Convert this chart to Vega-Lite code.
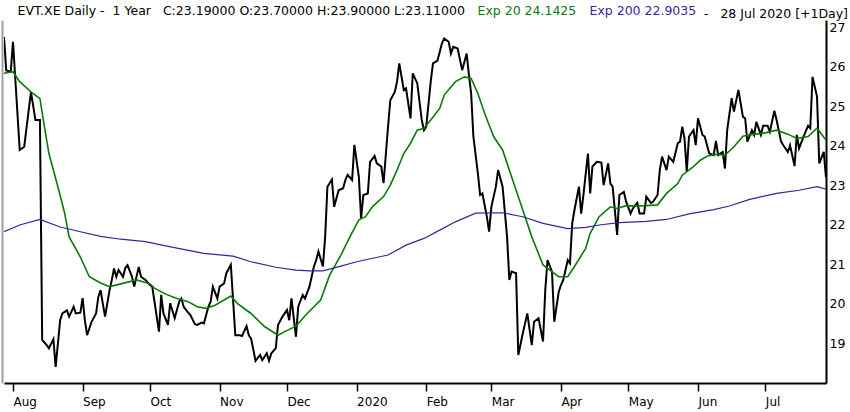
{
"$schema": "https://vega.github.io/schema/vega-lite/v6.json",
"width": 822, "height": 363,
"autosize": {"type": "none"},
"padding": {"left": 4, "top": 20, "right": 24, "bottom": 29},
"background": "white",
"config": {"font": "DejaVu Sans", "view": {"stroke": null}},
"title": {"text": "-\u00a0\u00a0\u00a028 Jul 2020 [+1Day]", "anchor": "end", "frame": "group", "dx": 22, "offset": -15, "fontSize": 12.5, "fontWeight": "normal", "color": "black"},
"data": {"values": [
{"d":"2019-07-28","v":26.75,"s":"C"},{"d":"2019-07-29","v":25.9,"s":"C"},{"d":"2019-07-31","v":25.87,"s":"C"},{"d":"2019-08-01","v":26.63,"s":"C"},{"d":"2019-08-04","v":23.89,"s":"C"},{"d":"2019-08-06","v":23.97,"s":"C"},{"d":"2019-08-09","v":25.36,"s":"C"},{"d":"2019-08-11","v":24.65,"s":"C"},{"d":"2019-08-13","v":24.65,"s":"C"},{"d":"2019-08-14","v":19.08,"s":"C"},{"d":"2019-08-16","v":18.95,"s":"C"},{"d":"2019-08-17","v":18.87,"s":"C"},{"d":"2019-08-19","v":19.1,"s":"C"},{"d":"2019-08-20","v":18.4,"s":"C"},{"d":"2019-08-22","v":19.58,"s":"C"},{"d":"2019-08-23","v":19.75,"s":"C"},{"d":"2019-08-25","v":19.83,"s":"C"},{"d":"2019-08-26","v":19.67,"s":"C"},{"d":"2019-08-28","v":19.92,"s":"C"},{"d":"2019-08-29","v":19.75,"s":"C"},{"d":"2019-08-31","v":19.77,"s":"C"},
{"d":"2019-09-01","v":20.14,"s":"C"},{"d":"2019-09-02","v":19.58,"s":"C"},{"d":"2019-09-03","v":19.2,"s":"C"},{"d":"2019-09-05","v":19.54,"s":"C"},{"d":"2019-09-07","v":19.75,"s":"C"},{"d":"2019-09-08","v":20.17,"s":"C"},{"d":"2019-09-09","v":20.34,"s":"C"},{"d":"2019-09-10","v":20.0,"s":"C"},{"d":"2019-09-11","v":19.67,"s":"C"},{"d":"2019-09-13","v":20.34,"s":"C"},{"d":"2019-09-14","v":20.6,"s":"C"},{"d":"2019-09-15","v":20.89,"s":"C"},{"d":"2019-09-16","v":20.68,"s":"C"},{"d":"2019-09-17","v":20.85,"s":"C"},{"d":"2019-09-19","v":20.68,"s":"C"},{"d":"2019-09-20","v":20.9,"s":"C"},{"d":"2019-09-21","v":20.97,"s":"C"},{"d":"2019-09-23","v":20.68,"s":"C"},{"d":"2019-09-24","v":20.43,"s":"C"},{"d":"2019-09-26","v":20.93,"s":"C"},{"d":"2019-09-27","v":20.68,"s":"C"},{"d":"2019-09-29","v":20.6,"s":"C"},
{"d":"2019-10-01","v":20.47,"s":"C"},{"d":"2019-10-02","v":20.43,"s":"C"},{"d":"2019-10-05","v":19.29,"s":"C"},{"d":"2019-10-06","v":20.22,"s":"C"},{"d":"2019-10-07","v":19.75,"s":"C"},{"d":"2019-10-09","v":19.46,"s":"C"},{"d":"2019-10-10","v":20.01,"s":"C"},{"d":"2019-10-12","v":19.63,"s":"C"},{"d":"2019-10-14","v":20.05,"s":"C"},{"d":"2019-10-15","v":20.13,"s":"C"},{"d":"2019-10-16","v":19.92,"s":"C"},{"d":"2019-10-18","v":19.77,"s":"C"},{"d":"2019-10-19","v":19.71,"s":"C"},{"d":"2019-10-21","v":19.48,"s":"C"},{"d":"2019-10-22","v":19.46,"s":"C"},{"d":"2019-10-24","v":19.52,"s":"C"},{"d":"2019-10-25","v":19.5,"s":"C"},{"d":"2019-10-27","v":19.92,"s":"C"},{"d":"2019-10-28","v":20.05,"s":"C"},{"d":"2019-10-29","v":20.43,"s":"C"},{"d":"2019-10-31","v":20.13,"s":"C"},
{"d":"2019-11-01","v":20.43,"s":"C"},{"d":"2019-11-03","v":20.51,"s":"C"},{"d":"2019-11-04","v":20.77,"s":"C"},{"d":"2019-11-06","v":20.98,"s":"C"},{"d":"2019-11-07","v":20.09,"s":"C"},{"d":"2019-11-08","v":19.2,"s":"C"},{"d":"2019-11-10","v":19.2,"s":"C"},{"d":"2019-11-11","v":19.18,"s":"C"},{"d":"2019-11-13","v":19.43,"s":"C"},{"d":"2019-11-14","v":19.2,"s":"C"},{"d":"2019-11-15","v":19.12,"s":"C"},{"d":"2019-11-17","v":18.55,"s":"C"},{"d":"2019-11-19","v":18.7,"s":"C"},{"d":"2019-11-20","v":18.57,"s":"C"},{"d":"2019-11-22","v":18.74,"s":"C"},{"d":"2019-11-23","v":18.55,"s":"C"},{"d":"2019-11-24","v":18.74,"s":"C"},{"d":"2019-11-26","v":18.87,"s":"C"},{"d":"2019-11-27","v":19.46,"s":"C"},{"d":"2019-11-29","v":19.67,"s":"C"},
{"d":"2019-12-01","v":19.84,"s":"C"},{"d":"2019-12-02","v":19.58,"s":"C"},{"d":"2019-12-03","v":20.13,"s":"C"},{"d":"2019-12-05","v":19.16,"s":"C"},{"d":"2019-12-06","v":19.92,"s":"C"},{"d":"2019-12-08","v":20.22,"s":"C"},{"d":"2019-12-09","v":20.13,"s":"C"},{"d":"2019-12-11","v":20.43,"s":"C"},{"d":"2019-12-13","v":20.94,"s":"C"},{"d":"2019-12-14","v":21.1,"s":"C"},{"d":"2019-12-15","v":21.32,"s":"C"},{"d":"2019-12-17","v":20.94,"s":"C"},{"d":"2019-12-18","v":21.69,"s":"C"},{"d":"2019-12-19","v":22.96,"s":"C"},{"d":"2019-12-21","v":23.14,"s":"C"},{"d":"2019-12-22","v":22.45,"s":"C"},{"d":"2019-12-24","v":22.87,"s":"C"},{"d":"2019-12-26","v":22.92,"s":"C"},{"d":"2019-12-27","v":23.13,"s":"C"},{"d":"2019-12-28","v":23.26,"s":"C"},{"d":"2019-12-30","v":23.13,"s":"C"},{"d":"2019-12-31","v":24.02,"s":"C"},
{"d":"2020-01-02","v":23.21,"s":"C"},{"d":"2020-01-03","v":22.16,"s":"C"},{"d":"2020-01-04","v":22.75,"s":"C"},{"d":"2020-01-06","v":22.79,"s":"C"},{"d":"2020-01-07","v":23.59,"s":"C"},{"d":"2020-01-09","v":23.74,"s":"C"},{"d":"2020-01-10","v":23.55,"s":"C"},{"d":"2020-01-12","v":23.47,"s":"C"},{"d":"2020-01-13","v":23.05,"s":"C"},{"d":"2020-01-15","v":24.48,"s":"C"},{"d":"2020-01-16","v":25.15,"s":"C"},{"d":"2020-01-18","v":25.36,"s":"C"},{"d":"2020-01-19","v":25.62,"s":"C"},{"d":"2020-01-20","v":26.08,"s":"C"},{"d":"2020-01-22","v":25.41,"s":"C"},{"d":"2020-01-23","v":25.45,"s":"C"},{"d":"2020-01-25","v":24.69,"s":"C"},{"d":"2020-01-26","v":25.83,"s":"C"},{"d":"2020-01-28","v":25.58,"s":"C"},{"d":"2020-01-30","v":24.65,"s":"C"},{"d":"2020-01-31","v":24.39,"s":"C"},
{"d":"2020-02-01","v":24.48,"s":"C"},{"d":"2020-02-03","v":25.62,"s":"C"},{"d":"2020-02-04","v":26.08,"s":"C"},{"d":"2020-02-06","v":26.15,"s":"C"},{"d":"2020-02-08","v":26.59,"s":"C"},{"d":"2020-02-09","v":26.71,"s":"C"},{"d":"2020-02-11","v":26.63,"s":"C"},{"d":"2020-02-12","v":26.33,"s":"C"},{"d":"2020-02-13","v":26.5,"s":"C"},{"d":"2020-02-15","v":26.46,"s":"C"},{"d":"2020-02-17","v":25.91,"s":"C"},{"d":"2020-02-19","v":26.33,"s":"C"},{"d":"2020-02-20","v":25.79,"s":"C"},{"d":"2020-02-21","v":25.32,"s":"C"},{"d":"2020-02-22","v":24.23,"s":"C"},{"d":"2020-02-24","v":23.3,"s":"C"},{"d":"2020-02-25","v":22.75,"s":"C"},{"d":"2020-02-26","v":22.79,"s":"C"},{"d":"2020-02-28","v":22.2,"s":"C"},{"d":"2020-02-29","v":21.82,"s":"C"},
{"d":"2020-03-01","v":22.45,"s":"C"},{"d":"2020-03-03","v":22.96,"s":"C"},{"d":"2020-03-04","v":23.38,"s":"C"},{"d":"2020-03-06","v":22.96,"s":"C"},{"d":"2020-03-08","v":21.69,"s":"C"},{"d":"2020-03-09","v":20.6,"s":"C"},{"d":"2020-03-10","v":20.81,"s":"C"},{"d":"2020-03-12","v":20.77,"s":"C"},{"d":"2020-03-13","v":18.7,"s":"C"},{"d":"2020-03-15","v":19.25,"s":"C"},{"d":"2020-03-16","v":19.5,"s":"C"},{"d":"2020-03-17","v":19.75,"s":"C"},{"d":"2020-03-19","v":18.95,"s":"C"},{"d":"2020-03-20","v":19.54,"s":"C"},{"d":"2020-03-22","v":19.63,"s":"C"},{"d":"2020-03-24","v":19.04,"s":"C"},{"d":"2020-03-25","v":20.34,"s":"C"},{"d":"2020-03-26","v":21.1,"s":"C"},{"d":"2020-03-28","v":20.81,"s":"C"},{"d":"2020-03-29","v":19.54,"s":"C"},{"d":"2020-03-31","v":20.3,"s":"C"},
{"d":"2020-04-01","v":20.47,"s":"C"},{"d":"2020-04-02","v":20.6,"s":"C"},{"d":"2020-04-04","v":21.1,"s":"C"},{"d":"2020-04-05","v":21.02,"s":"C"},{"d":"2020-04-06","v":22.03,"s":"C"},{"d":"2020-04-07","v":22.37,"s":"C"},{"d":"2020-04-09","v":22.96,"s":"C"},{"d":"2020-04-10","v":22.28,"s":"C"},{"d":"2020-04-11","v":22.75,"s":"C"},{"d":"2020-04-13","v":23.8,"s":"C"},{"d":"2020-04-14","v":22.79,"s":"C"},{"d":"2020-04-15","v":23.47,"s":"C"},{"d":"2020-04-17","v":23.59,"s":"C"},{"d":"2020-04-19","v":23.57,"s":"C"},{"d":"2020-04-20","v":23.0,"s":"C"},{"d":"2020-04-22","v":23.55,"s":"C"},{"d":"2020-04-23","v":23.04,"s":"C"},{"d":"2020-04-24","v":22.96,"s":"C"},{"d":"2020-04-26","v":21.74,"s":"C"},{"d":"2020-04-27","v":22.75,"s":"C"},{"d":"2020-04-29","v":22.83,"s":"C"},{"d":"2020-04-30","v":22.58,"s":"C"},
{"d":"2020-05-02","v":22.28,"s":"C"},{"d":"2020-05-03","v":22.41,"s":"C"},{"d":"2020-05-05","v":22.55,"s":"C"},{"d":"2020-05-06","v":22.28,"s":"C"},{"d":"2020-05-08","v":22.28,"s":"C"},{"d":"2020-05-09","v":22.71,"s":"C"},{"d":"2020-05-11","v":22.55,"s":"C"},{"d":"2020-05-12","v":22.58,"s":"C"},{"d":"2020-05-14","v":22.75,"s":"C"},{"d":"2020-05-15","v":23.38,"s":"C"},{"d":"2020-05-16","v":23.72,"s":"C"},{"d":"2020-05-18","v":23.38,"s":"C"},{"d":"2020-05-19","v":23.72,"s":"C"},{"d":"2020-05-21","v":23.59,"s":"C"},{"d":"2020-05-23","v":24.06,"s":"C"},{"d":"2020-05-24","v":24.1,"s":"C"},{"d":"2020-05-25","v":24.48,"s":"C"},{"d":"2020-05-26","v":24.18,"s":"C"},{"d":"2020-05-27","v":23.34,"s":"C"},{"d":"2020-05-28","v":24.23,"s":"C"},{"d":"2020-05-30","v":24.39,"s":"C"},{"d":"2020-05-31","v":24.01,"s":"C"},
{"d":"2020-06-01","v":24.69,"s":"C"},{"d":"2020-06-03","v":24.27,"s":"C"},{"d":"2020-06-04","v":24.23,"s":"C"},{"d":"2020-06-06","v":23.8,"s":"C"},{"d":"2020-06-08","v":23.76,"s":"C"},{"d":"2020-06-09","v":24.12,"s":"C"},{"d":"2020-06-10","v":23.76,"s":"C"},{"d":"2020-06-12","v":23.84,"s":"C"},{"d":"2020-06-13","v":23.42,"s":"C"},{"d":"2020-06-14","v":24.39,"s":"C"},{"d":"2020-06-16","v":25.2,"s":"C"},{"d":"2020-06-17","v":24.86,"s":"C"},{"d":"2020-06-19","v":25.41,"s":"C"},{"d":"2020-06-21","v":24.73,"s":"C"},{"d":"2020-06-22","v":24.69,"s":"C"},{"d":"2020-06-23","v":24.1,"s":"C"},{"d":"2020-06-25","v":24.39,"s":"C"},{"d":"2020-06-26","v":24.27,"s":"C"},{"d":"2020-06-27","v":24.6,"s":"C"},{"d":"2020-06-29","v":24.27,"s":"C"},{"d":"2020-06-30","v":24.5,"s":"C"},
{"d":"2020-07-02","v":24.5,"s":"C"},{"d":"2020-07-03","v":24.35,"s":"C"},{"d":"2020-07-05","v":24.88,"s":"C"},{"d":"2020-07-06","v":24.65,"s":"C"},{"d":"2020-07-08","v":24.1,"s":"C"},{"d":"2020-07-09","v":24.01,"s":"C"},{"d":"2020-07-11","v":23.84,"s":"C"},{"d":"2020-07-12","v":24.01,"s":"C"},{"d":"2020-07-14","v":23.48,"s":"C"},{"d":"2020-07-15","v":24.27,"s":"C"},{"d":"2020-07-16","v":23.93,"s":"C"},{"d":"2020-07-18","v":24.23,"s":"C"},{"d":"2020-07-20","v":24.5,"s":"C"},{"d":"2020-07-21","v":24.44,"s":"C"},{"d":"2020-07-22","v":25.74,"s":"C"},{"d":"2020-07-24","v":25.24,"s":"C"},{"d":"2020-07-25","v":23.55,"s":"C"},{"d":"2020-07-27","v":23.84,"s":"C"},{"d":"2020-07-28","v":23.19,"s":"C"},
{"d":"2019-07-28","v":25.83,"s":"E20"},{"d":"2019-08-01","v":25.87,"s":"E20"},{"d":"2019-08-04","v":25.62,"s":"E20"},{"d":"2019-08-09","v":25.36,"s":"E20"},{"d":"2019-08-13","v":25.19,"s":"E20"},{"d":"2019-08-15","v":24.48,"s":"E20"},{"d":"2019-08-17","v":23.8,"s":"E20"},{"d":"2019-08-21","v":22.96,"s":"E20"},{"d":"2019-08-24","v":22.29,"s":"E20"},{"d":"2019-08-26","v":21.69,"s":"E20"},{"d":"2019-08-31","v":21.18,"s":"E20"},{"d":"2019-09-04","v":20.68,"s":"E20"},{"d":"2019-09-09","v":20.52,"s":"E20"},{"d":"2019-09-13","v":20.43,"s":"E20"},{"d":"2019-09-18","v":20.5,"s":"E20"},{"d":"2019-09-25","v":20.6,"s":"E20"},{"d":"2019-10-01","v":20.5,"s":"E20"},{"d":"2019-10-03","v":20.39,"s":"E20"},{"d":"2019-10-08","v":20.24,"s":"E20"},{"d":"2019-10-13","v":20.13,"s":"E20"},{"d":"2019-10-18","v":20.05,"s":"E20"},{"d":"2019-10-22","v":19.92,"s":"E20"},{"d":"2019-10-26","v":19.88,"s":"E20"},{"d":"2019-10-30","v":19.96,"s":"E20"},{"d":"2019-11-03","v":20.09,"s":"E20"},{"d":"2019-11-06","v":20.19,"s":"E20"},{"d":"2019-11-09","v":20.0,"s":"E20"},{"d":"2019-11-15","v":19.75,"s":"E20"},{"d":"2019-11-21","v":19.42,"s":"E20"},{"d":"2019-11-27","v":19.2,"s":"E20"},{"d":"2019-11-30","v":19.29,"s":"E20"},{"d":"2019-12-05","v":19.43,"s":"E20"},{"d":"2019-12-10","v":19.75,"s":"E20"},{"d":"2019-12-16","v":20.09,"s":"E20"},{"d":"2019-12-20","v":20.72,"s":"E20"},{"d":"2019-12-25","v":21.23,"s":"E20"},{"d":"2019-12-29","v":21.69,"s":"E20"},{"d":"2020-01-02","v":22.12,"s":"E20"},{"d":"2020-01-05","v":22.2,"s":"E20"},{"d":"2020-01-08","v":22.45,"s":"E20"},{"d":"2020-01-13","v":22.71,"s":"E20"},{"d":"2020-01-16","v":23.0,"s":"E20"},{"d":"2020-01-19","v":23.38,"s":"E20"},{"d":"2020-01-22","v":23.8,"s":"E20"},{"d":"2020-01-25","v":24.06,"s":"E20"},{"d":"2020-01-28","v":24.39,"s":"E20"},{"d":"2020-01-31","v":24.44,"s":"E20"},{"d":"2020-02-03","v":24.65,"s":"E20"},{"d":"2020-02-07","v":24.94,"s":"E20"},{"d":"2020-02-09","v":25.28,"s":"E20"},{"d":"2020-02-14","v":25.62,"s":"E20"},{"d":"2020-02-18","v":25.74,"s":"E20"},{"d":"2020-02-21","v":25.7,"s":"E20"},{"d":"2020-02-24","v":25.32,"s":"E20"},{"d":"2020-02-27","v":24.82,"s":"E20"},{"d":"2020-03-02","v":24.23,"s":"E20"},{"d":"2020-03-06","v":23.89,"s":"E20"},{"d":"2020-03-10","v":23.21,"s":"E20"},{"d":"2020-03-15","v":22.37,"s":"E20"},{"d":"2020-03-19","v":21.69,"s":"E20"},{"d":"2020-03-24","v":20.98,"s":"E20"},{"d":"2020-03-26","v":20.89,"s":"E20"},{"d":"2020-03-31","v":20.68,"s":"E20"},{"d":"2020-04-04","v":20.68,"s":"E20"},{"d":"2020-04-07","v":20.94,"s":"E20"},{"d":"2020-04-12","v":21.4,"s":"E20"},{"d":"2020-04-14","v":21.78,"s":"E20"},{"d":"2020-04-18","v":22.2,"s":"E20"},{"d":"2020-04-23","v":22.45,"s":"E20"},{"d":"2020-04-26","v":22.41,"s":"E20"},{"d":"2020-04-30","v":22.48,"s":"E20"},{"d":"2020-05-05","v":22.47,"s":"E20"},{"d":"2020-05-09","v":22.48,"s":"E20"},{"d":"2020-05-14","v":22.5,"s":"E20"},{"d":"2020-05-18","v":22.79,"s":"E20"},{"d":"2020-05-23","v":23.04,"s":"E20"},{"d":"2020-05-25","v":23.25,"s":"E20"},{"d":"2020-05-30","v":23.47,"s":"E20"},{"d":"2020-06-02","v":23.63,"s":"E20"},{"d":"2020-06-05","v":23.73,"s":"E20"},{"d":"2020-06-09","v":23.78,"s":"E20"},{"d":"2020-06-13","v":23.76,"s":"E20"},{"d":"2020-06-17","v":23.97,"s":"E20"},{"d":"2020-06-21","v":24.24,"s":"E20"},{"d":"2020-06-26","v":24.29,"s":"E20"},{"d":"2020-06-30","v":24.31,"s":"E20"},{"d":"2020-07-06","v":24.39,"s":"E20"},{"d":"2020-07-11","v":24.29,"s":"E20"},{"d":"2020-07-15","v":24.18,"s":"E20"},{"d":"2020-07-20","v":24.23,"s":"E20"},{"d":"2020-07-24","v":24.44,"s":"E20"},{"d":"2020-07-28","v":24.14,"s":"E20"},
{"d":"2019-07-28","v":21.82,"s":"E200"},{"d":"2019-08-04","v":21.99,"s":"E200"},{"d":"2019-08-13","v":22.13,"s":"E200"},{"d":"2019-08-22","v":21.94,"s":"E200"},{"d":"2019-08-31","v":21.82,"s":"E200"},{"d":"2019-09-09","v":21.7,"s":"E200"},{"d":"2019-09-18","v":21.63,"s":"E200"},{"d":"2019-09-29","v":21.57,"s":"E200"},{"d":"2019-10-08","v":21.46,"s":"E200"},{"d":"2019-10-17","v":21.36,"s":"E200"},{"d":"2019-10-25","v":21.27,"s":"E200"},{"d":"2019-11-07","v":21.2,"s":"E200"},{"d":"2019-11-15","v":21.06,"s":"E200"},{"d":"2019-11-26","v":20.92,"s":"E200"},{"d":"2019-12-05","v":20.85,"s":"E200"},{"d":"2019-12-11","v":20.83,"s":"E200"},{"d":"2019-12-17","v":20.83,"s":"E200"},{"d":"2019-12-25","v":20.95,"s":"E200"},{"d":"2020-01-01","v":21.06,"s":"E200"},{"d":"2020-01-15","v":21.23,"s":"E200"},{"d":"2020-01-23","v":21.48,"s":"E200"},{"d":"2020-01-31","v":21.65,"s":"E200"},{"d":"2020-02-07","v":21.86,"s":"E200"},{"d":"2020-02-14","v":22.07,"s":"E200"},{"d":"2020-02-23","v":22.29,"s":"E200"},{"d":"2020-03-06","v":22.3,"s":"E200"},{"d":"2020-03-15","v":22.2,"s":"E200"},{"d":"2020-03-24","v":22.03,"s":"E200"},{"d":"2020-04-04","v":21.9,"s":"E200"},{"d":"2020-04-12","v":21.93,"s":"E200"},{"d":"2020-04-18","v":21.99,"s":"E200"},{"d":"2020-04-27","v":22.05,"s":"E200"},{"d":"2020-05-09","v":22.08,"s":"E200"},{"d":"2020-05-18","v":22.13,"s":"E200"},{"d":"2020-05-28","v":22.27,"s":"E200"},{"d":"2020-06-08","v":22.38,"s":"E200"},{"d":"2020-06-15","v":22.47,"s":"E200"},{"d":"2020-06-24","v":22.64,"s":"E200"},{"d":"2020-07-06","v":22.79,"s":"E200"},{"d":"2020-07-16","v":22.87,"s":"E200"},{"d":"2020-07-24","v":22.96,"s":"E200"},{"d":"2020-07-28","v":22.9,"s":"E200"}
]},
"layer": [
{
"mark": {"type": "line", "interpolate": "linear", "clip": true},
"encoding": {
  "x": {"field": "d", "type": "temporal",
    "scale": {"type": "utc", "domain": [{"year": 2019, "month": 7, "date": 28, "utc": true}, {"year": 2020, "month": 7, "date": 28, "utc": true}]},
    "axis": {"orient": "bottom", "title": null, "grid": false,
      "values": [{"year":2019,"month":8,"date":1,"utc":true},{"year":2019,"month":9,"date":1,"utc":true},{"year":2019,"month":10,"date":1,"utc":true},{"year":2019,"month":11,"date":1,"utc":true},{"year":2019,"month":12,"date":1,"utc":true},{"year":2020,"month":1,"date":1,"utc":true},{"year":2020,"month":2,"date":1,"utc":true},{"year":2020,"month":3,"date":1,"utc":true},{"year":2020,"month":4,"date":1,"utc":true},{"year":2020,"month":5,"date":1,"utc":true},{"year":2020,"month":6,"date":1,"utc":true},{"year":2020,"month":7,"date":1,"utc":true}],
      "labelExpr": "utcmonth(datum.value) == 0 ? utcFormat(datum.value, '%Y') : utcFormat(datum.value, '%b')",
      "labelAlign": "left", "labelFlush": false, "labelOverlap": false, "labelFontSize": 12, "labelColor": "black", "labelPadding": 5,
      "tickColor": "black", "tickSize": 8, "tickWidth": 1.5, "domainColor": "black", "domainWidth": 2}},
  "y": {"field": "v", "type": "quantitative",
    "scale": {"domain": [17.99, 27.18], "zero": false, "nice": false},
    "axis": {"orient": "right", "title": null, "grid": false, "values": [19,20,21,22,23,24,25,26,27], "ticks": false, "labelPadding": 3, "labelFontSize": 12.5, "labelColor": "black", "domainColor": "black", "domainWidth": 2}},
  "color": {"field": "s", "type": "nominal",
    "scale": {"domain": ["C","E20","E200"], "range": ["#000000","#0a7a0a","#3d1f9c"]},
    "legend": {"orient": "none", "legendX": 1, "legendY": -15, "direction": "horizontal", "columns": 3, "title": null,
      "symbolSize": 0, "symbolOpacity": 0, "symbolStrokeWidth": 0, "labelOffset": 0, "columnPadding": -20, "padding": 0,
      "labelFontSize": 12.5, "labelLimit": 700,
      "labelExpr": "datum.label == 'C' ? 'EVT.XE Daily -\u00a0\u00a01 Year\u00a0\u00a0\u00a0C:23.19000 O:23.70000 H:23.90000 L:23.11000' : datum.label == 'E20' ? 'Exp 20 24.1425' : 'Exp 200 22.9035'",
      "encode": {"labels": {"update": {"fill": {"scale": "color", "field": "value"}}}}}},
  "strokeWidth": {"field": "s", "type": "ordinal", "scale": {"domain": ["C","E20","E200"], "range": [2, 1.2, 1.3]}, "legend": null}
}
},
{
"mark": {"type": "line", "opacity": 0},
"encoding": {
  "x": {"field": "d", "type": "temporal", "axis": null},
  "y": {"field": "v", "type": "quantitative",
    "axis": {"orient": "left", "title": null, "grid": false, "labels": false, "ticks": false, "domainColor": "#a0a0a0", "domainWidth": 2, "offset": 2}}
}
}
],
"resolve": {"axis": {"y": "independent", "x": "independent"}}
}
